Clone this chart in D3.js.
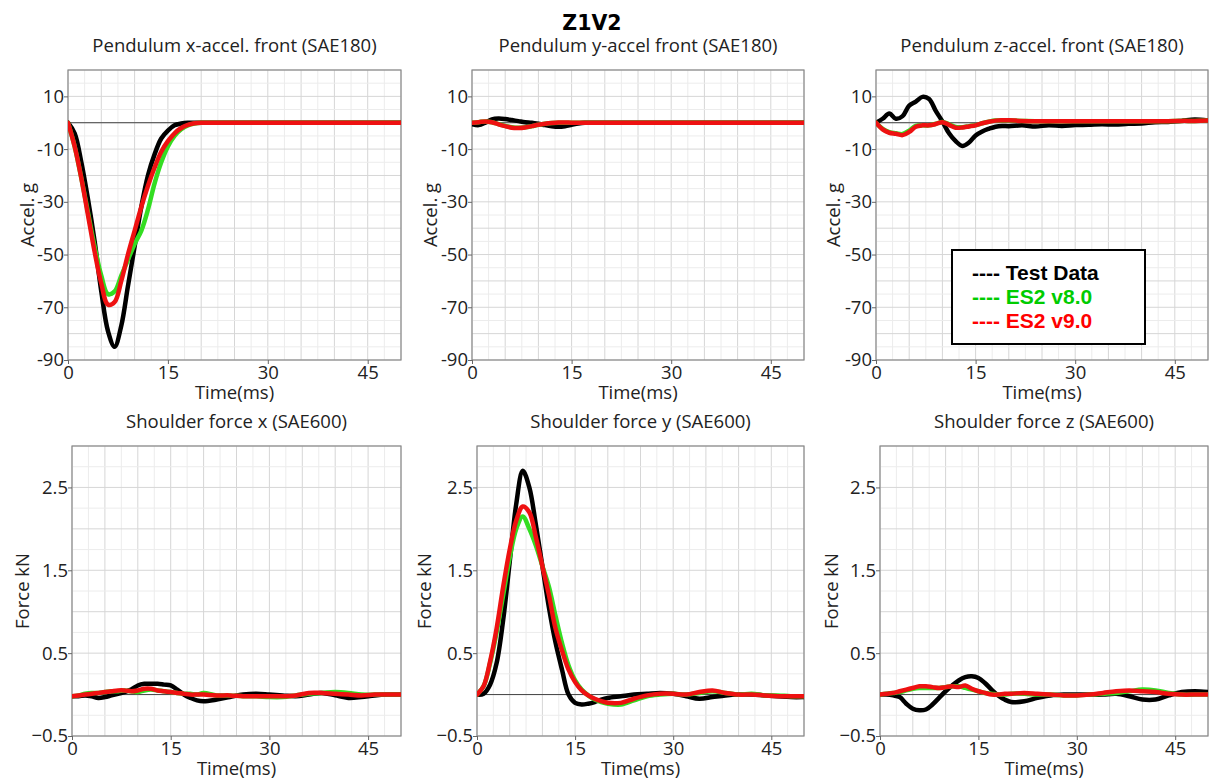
<!DOCTYPE html>
<html>
<head>
<meta charset="utf-8">
<script src="https://cdn.jsdelivr.net/npm/d3@7"></script>
<style>
  html, body { margin: 0; padding: 0; background: #fff; }
  svg { display: block; }
  .tick text { font-family: "Open Sans", "Noto Sans", sans-serif; font-size: 18.5px; fill: #222; }
</style>
</head>
<body>
<svg id="chart" width="1210" height="782"></svg>
<script>
// ---------------- DATA ----------------
const mainTitle = "Z1V2";
const time = [0,1,2,3,4,5,6,7,8,9,10,11,12,13,14,15,16,17,18,19,20,22,24,26,28,30,32,34,36,38,40,42,44,46,48,50];
const seriesNames = ["Test Data", "ES2 v8.0", "ES2 v9.0"];
const xTicks = [0, 15, 30, 45];
const accelTicks = [10, -10, -30, -50, -70, -90];
const forceTicks = [2.5, 1.5, 0.5, -0.5];

// Pendulum x-accel. front
const ax_test = [0,-4,-15,-29,-45,-64,-79,-85,-77,-62,-47,-32,-20,-12,-6,-3,-1,-0.3,0,0,0,0,0,0,0,0,0,0,0,0,0,0,0,0,0,0];
const ax_v8   = [0,-9,-21,-34,-47,-58,-65,-64,-58,-52,-46,-41,-33,-23,-15,-9,-5,-2.5,-1,-0.3,0,0,0,0,0,0,0,0,0,0,0,0,0,0,0,0];
const ax_v9   = [0,-9,-21,-35,-49,-61,-69,-68,-60,-50,-41,-32,-24,-17,-11,-7,-4,-2,-0.8,-0.2,0,0,0,0,0,0,0,0,0,0,0,0,0,0,0,0];
// Pendulum y-accel front
const ay_test = [-0.5,-0.9,0,1.3,1.6,1.4,1.0,0.6,0.2,0,-0.4,-0.9,-1.3,-1.5,-1.3,-0.8,-0.3,0,0,0,0,0,0,0,0,0,0,0,0,0,0,0,0,0,0,0];
const ay_v8   = [0,0.2,0.5,0.2,-0.5,-1.2,-1.7,-1.9,-1.7,-1.3,-0.8,-0.4,-0.1,0,0,0,0,0,0,0,0,0,0,0,0,0,0,0,0,0,0,0,0,0,0,0];
const ay_v9   = [0,0.2,0.5,0.2,-0.6,-1.3,-1.9,-2.0,-1.8,-1.3,-0.8,-0.4,-0.1,0.1,0.1,0,0,0,0,0,0,0,0,0,0,0,0,0,0,0,0,0,0,0,0,0];
// Pendulum z-accel. front
const az_test = [0,1.5,3.5,1.5,2.5,6.5,8,9.8,9,4.5,0.5,-4,-7,-8.8,-7.5,-4.8,-3.3,-2.3,-1.5,-1.2,-1.3,-1.0,-1.4,-1.0,-1.2,-0.9,-0.8,-0.6,-0.7,-0.4,-0.3,0.2,0.3,0.7,1.2,0.8];
const az_v8   = [0,-2.3,-3.6,-4.0,-4.3,-3.0,-1.2,-1.0,-1.0,-0.4,0.3,-0.6,-1.6,-1.7,-1.3,-0.9,-0.2,0.4,0.8,0.8,0.8,0.7,0.6,0.6,0.6,0.6,0.6,0.6,0.6,0.6,0.6,0.6,0.6,0.7,0.7,0.8];
const az_v9   = [0,-2.5,-3.8,-4.2,-4.7,-3.5,-1.5,-1.0,-1.0,-0.5,0.2,-0.8,-1.9,-1.8,-1.4,-1.0,-0.2,0.4,0.8,0.9,0.9,0.7,0.6,0.6,0.6,0.6,0.6,0.6,0.6,0.6,0.6,0.6,0.6,0.7,0.7,0.8];
// Shoulder force x
const fx_test = [-0.02,-0.02,-0.01,-0.02,-0.04,-0.03,-0.01,0.01,0.03,0.06,0.11,0.13,0.13,0.13,0.12,0.11,0.06,0.0,-0.04,-0.07,-0.08,-0.06,-0.03,0.0,0.01,0.0,-0.01,-0.02,0.0,0.02,-0.01,-0.04,-0.03,-0.01,0.0,0.0];
const fx_v8   = [-0.02,-0.01,0.01,0.02,0.02,0.03,0.04,0.04,0.05,0.04,0.03,0.05,0.06,0.05,0.04,0.03,0.02,0.01,0.01,0.0,0.02,-0.01,-0.01,-0.02,-0.02,-0.03,-0.03,-0.01,0.01,0.02,0.03,0.02,0.0,0.0,0.0,0.0];
const fx_v9   = [-0.02,-0.01,0.0,0.01,0.02,0.03,0.04,0.05,0.05,0.04,0.05,0.07,0.07,0.05,0.04,0.03,0.02,0.01,0.0,0.0,0.0,-0.01,-0.01,-0.02,-0.02,-0.02,-0.02,-0.01,0.02,0.02,0.01,0.0,-0.01,0.0,0.0,0.0];
// Shoulder force y
const fy_test = [0,0.01,0.12,0.38,0.9,1.6,2.3,2.7,2.5,2.05,1.55,1.05,0.63,0.3,0.0,-0.1,-0.12,-0.11,-0.09,-0.06,-0.04,-0.02,0.0,0.01,0.02,0.01,-0.02,-0.05,-0.03,-0.01,0.0,0.0,-0.01,-0.02,-0.03,-0.03];
const fy_v8   = [0,0.1,0.38,0.75,1.2,1.65,2.0,2.15,2.0,1.8,1.55,1.3,0.95,0.62,0.35,0.17,0.06,-0.01,-0.06,-0.09,-0.11,-0.12,-0.07,-0.02,0.0,0.01,0.0,0.02,0.04,0.02,0.0,0.01,-0.01,-0.01,-0.02,-0.02];
const fy_v9   = [0,0.1,0.4,0.8,1.3,1.75,2.1,2.27,2.2,1.9,1.55,1.2,0.8,0.53,0.3,0.15,0.05,-0.01,-0.05,-0.08,-0.1,-0.1,-0.05,-0.01,0.01,0.01,0.0,0.03,0.05,0.02,0.0,0.0,-0.01,-0.02,-0.02,-0.02];
// Shoulder force z
const fz_test = [0,0,-0.01,-0.03,-0.11,-0.17,-0.19,-0.18,-0.12,-0.04,0.04,0.11,0.17,0.21,0.22,0.2,0.14,0.06,-0.01,-0.06,-0.09,-0.08,-0.04,-0.01,0.0,0.0,0.0,0.0,0.01,-0.02,-0.06,-0.06,-0.01,0.03,0.04,0.03];
const fz_v8   = [0,0.01,0.02,0.03,0.05,0.07,0.08,0.08,0.08,0.08,0.09,0.1,0.1,0.08,0.06,0.04,0.02,0.01,0.0,0.0,0.01,0.01,0.0,0.0,-0.01,-0.01,0.0,0.01,0.02,0.04,0.06,0.05,0.02,0.0,0.0,0.0];
const fz_v9   = [0,0.01,0.02,0.04,0.06,0.08,0.1,0.1,0.09,0.08,0.09,0.1,0.09,0.11,0.07,0.04,0.02,0.0,0.0,0.01,0.01,0.02,0.01,0.0,-0.01,-0.01,0.0,0.02,0.04,0.05,0.04,0.03,0.01,0.0,0.0,0.0];

// ---------------- LAYOUT / STYLE ----------------
const colors = ["#000000", "#33dd22", "#ee1111"];
const legendColors = ["#000000", "#00cc00", "#ff0000"];

const panels = [
  {title: "Pendulum x-accel. front (SAE180)", ylab: "Accel. g", series: [ax_test, ax_v8, ax_v9], x0: 68,  x1: 401,  y0: 70,  y1: 360, yd: [-90, 20], ticks: accelTicks, minor: 5, fmt: d => d, ylx: 40},
  {title: "Pendulum y-accel front (SAE180)",  ylab: "Accel. g", series: [ay_test, ay_v8, ay_v9], x0: 472, x1: 804,  y0: 70,  y1: 360, yd: [-90, 20], ticks: accelTicks, minor: 5, fmt: d => d, ylx: 41},
  {title: "Pendulum z-accel. front (SAE180)", ylab: "Accel. g", series: [az_test, az_v8, az_v9], x0: 876, x1: 1208, y0: 70,  y1: 360, yd: [-90, 20], ticks: accelTicks, minor: 5, fmt: d => d, ylx: 42, legend: true},
  {title: "Shoulder force x (SAE600)",        ylab: "Force kN", series: [fx_test, fx_v8, fx_v9], x0: 72,  x1: 401,  y0: 446, y1: 736, yd: [-0.5, 3.0], ticks: forceTicks, minor: 0.25, fmt: d3.format(".1f"), ylx: 49},
  {title: "Shoulder force y (SAE600)",        ylab: "Force kN", series: [fy_test, fy_v8, fy_v9], x0: 477, x1: 804,  y0: 446, y1: 736, yd: [-0.5, 3.0], ticks: forceTicks, minor: 0.25, fmt: d3.format(".1f"), ylx: 52},
  {title: "Shoulder force z (SAE600)",        ylab: "Force kN", series: [fz_test, fz_v8, fz_v9], x0: 880, x1: 1208, y0: 446, y1: 736, yd: [-0.5, 3.0], ticks: forceTicks, minor: 0.25, fmt: d3.format(".1f"), ylx: 48}
];

const svg = d3.select("#chart");
const font = '"Open Sans", "Noto Sans", sans-serif';
const fs = 18.5;

svg.append("text")
  .attr("x", 592).attr("y", 30)
  .attr("text-anchor", "middle")
  .attr("font-family", '"DejaVu Sans", Verdana, sans-serif')
  .attr("font-weight", "bold").attr("font-size", 20.5)
  .text(mainTitle);

panels.forEach((p, pi) => {
  const x = d3.scaleLinear().domain([0, 50]).range([p.x0, p.x1]);
  const y = d3.scaleLinear().domain(p.yd).range([p.y1, p.y0]);
  const g = svg.append("g");

  // grid
  const xMinor = d3.range(0, 50.001, 2.5);
  const yMinor = d3.range(p.yd[0], p.yd[1] + 1e-6, p.minor);
  g.selectAll(".vmin").data(xMinor).enter().append("line")
    .attr("x1", d => x(d)).attr("x2", d => x(d)).attr("y1", p.y0).attr("y2", p.y1)
    .attr("stroke", (d) => (Math.round(d / 2.5) % 2 === 0) ? "#d6d6d6" : "#ececec").attr("stroke-width", 1);
  g.selectAll(".hmin").data(yMinor).enter().append("line")
    .attr("y1", d => y(d)).attr("y2", d => y(d)).attr("x1", p.x0).attr("x2", p.x1)
    .attr("stroke", (d) => (Math.abs(Math.round((d - p.yd[0]) / p.minor)) % 2 === 0) ? "#d6d6d6" : "#ececec").attr("stroke-width", 1);

  // zero reference line
  g.append("line")
    .attr("x1", p.x0).attr("x2", p.x1).attr("y1", y(0)).attr("y2", y(0))
    .attr("stroke", "#444").attr("stroke-width", 1);

  // frame
  g.append("rect")
    .attr("x", p.x0).attr("y", p.y0).attr("width", p.x1 - p.x0).attr("height", p.y1 - p.y0)
    .attr("fill", "none").attr("stroke", "#8a8a8a").attr("stroke-width", 1.2);

  // curves
  const line = d3.line().x((d, i) => x(time[i])).y(d => y(d)).curve(d3.curveCatmullRom.alpha(0.5));
  const clipId = "clip" + pi;
  svg.append("clipPath").attr("id", clipId).append("rect")
    .attr("x", p.x0).attr("y", p.y0).attr("width", p.x1 - p.x0).attr("height", p.y1 - p.y0);
  p.series.forEach((s, si) => {
    g.append("path").datum(s)
      .attr("d", line)
      .attr("fill", "none")
      .attr("stroke", colors[si])
      .attr("stroke-width", 4.5)
      .attr("stroke-linejoin", "round")
      .attr("stroke-linecap", "round")
      .attr("clip-path", `url(#${clipId})`);
  });

  // axes
  const yAxis = d3.axisLeft(y).tickValues(p.ticks).tickFormat(p.fmt).tickSize(4).tickSizeOuter(0).tickPadding(0);
  const yg = g.append("g").attr("transform", `translate(${p.x0},0)`).call(yAxis);
  yg.select(".domain").remove();
  yg.selectAll(".tick line").attr("stroke", "#666");
  const xAxis = d3.axisBottom(x).tickValues(xTicks).tickSize(4).tickSizeOuter(0).tickPadding(0);
  const xg = g.append("g").attr("transform", `translate(0,${p.y1})`).call(xAxis);
  xg.select(".domain").remove();
  xg.selectAll(".tick line").attr("stroke", "#666");
  xg.selectAll(".tick text").attr("dy", "0.8em");

  // titles
  g.append("text")
    .attr("x", (p.x0 + p.x1) / 2).attr("y", p.y0 - 18)
    .attr("text-anchor", "middle").attr("font-family", font).attr("font-size", fs).attr("fill", "#222")
    .text(p.title);
  g.append("text")
    .attr("x", (p.x0 + p.x1) / 2).attr("y", p.y1 + 39)
    .attr("text-anchor", "middle").attr("font-family", font).attr("font-size", fs).attr("fill", "#222")
    .text("Time(ms)");
  g.append("text")
    .attr("transform", `translate(${p.x0 - p.ylx},${(p.y0 + p.y1) / 2}) rotate(-90)`)
    .attr("text-anchor", "middle").attr("dy", "0.35em").attr("font-family", font).attr("font-size", fs).attr("fill", "#222")
    .text(p.ylab);

  if (p.legend) {
    const lg = svg.append("g");
    lg.append("rect").attr("x", 952).attr("y", 250).attr("width", 193).attr("height", 94)
      .attr("fill", "#fff").attr("stroke", "#000").attr("stroke-width", 2);
    seriesNames.forEach((n, i) => {
      lg.append("text")
        .attr("x", 972).attr("y", 280 + i * 24)
        .attr("font-family", '"Liberation Sans", Arial, sans-serif')
        .attr("font-weight", "bold").attr("font-size", 21)
        .attr("fill", legendColors[i])
        .text("---- " + n);
    });
  }
});
</script>
</body>
</html>
